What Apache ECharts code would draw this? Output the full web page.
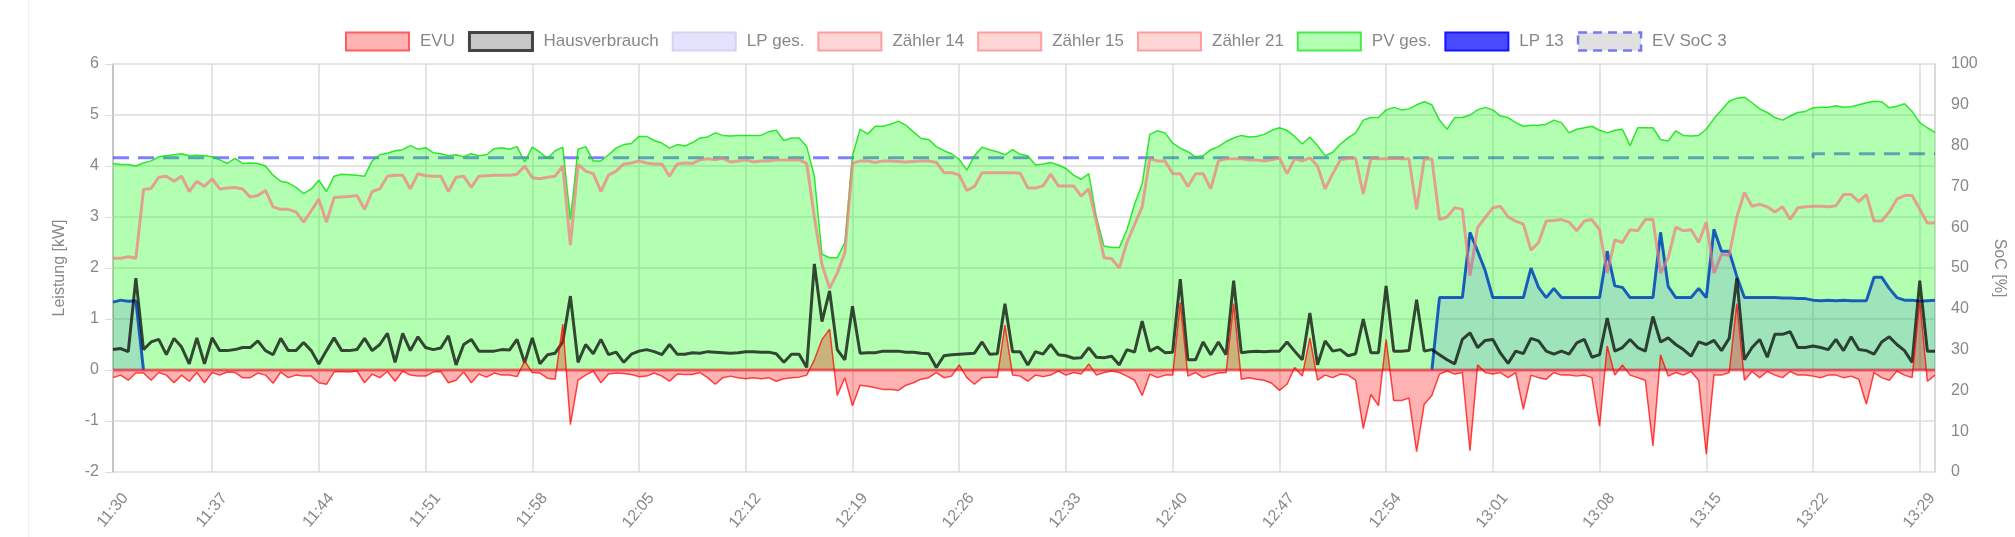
<!DOCTYPE html>
<html>
<head>
<meta charset="utf-8">
<script src="https://cdn.jsdelivr.net/npm/echarts@6/dist/echarts.min.js"></script>
<style>
  html, body { margin: 0; padding: 0; background: #fff; }
  #chart { width: 2015px; height: 537px; }
</style>
</head>
<body>
<div id="chart"></div>
<script>
// one sample every 30 s, first sample 11:30:30
const startSec = (11 * 60 + 30) * 60 + 30;
const times = [];
for (let i = 0; i < 240; i++) {
  const s = startSec + i * 30;
  const hh = String(Math.floor(s / 3600)).padStart(2, '0');
  const mm = String(Math.floor(s / 60) % 60).padStart(2, '0');
  const ss = String(s % 60).padStart(2, '0');
  times.push(hh + ':' + mm + ':' + ss);
}

const evu = [
  -0.15,-0.1,-0.2,-0.06,-0.06,-0.2,-0.05,-0.1,-0.25,-0.1,-0.22,-0.05,-0.25,-0.05,-0.1,-0.04,-0.05,-0.15,-0.15,-0.06,
  -0.1,-0.26,-0.04,-0.15,-0.1,-0.12,-0.12,-0.25,-0.28,-0.04,-0.03,-0.04,-0.02,-0.25,-0.08,-0.15,-0.03,-0.22,-0.02,-0.1,-0.12,
  -0.12,-0.04,-0.03,-0.25,-0.2,-0.04,-0.25,-0.08,-0.14,-0.06,-0.1,-0.1,-0.13,0.18,-0.05,-0.06,-0.16,-0.18,0.9,-1.07,
  -0.2,-0.1,-0.02,-0.25,-0.08,-0.06,-0.07,-0.09,-0.13,-0.12,-0.06,-0.12,-0.22,-0.08,-0.09,-0.09,-0.05,-0.15,-0.28,-0.15,
  -0.12,-0.15,-0.17,-0.15,-0.17,-0.15,-0.22,-0.17,-0.15,-0.14,-0.1,0.2,0.6,0.8,-0.5,-0.15,-0.7,-0.3,-0.32,-0.35,
  -0.38,-0.38,-0.4,-0.3,-0.25,-0.18,-0.15,-0.05,-0.15,-0.12,0.1,-0.15,-0.28,-0.15,-0.14,-0.14,0.88,-0.1,-0.12,-0.22,-0.1,
  -0.13,-0.1,-0.02,-0.1,-0.05,-0.08,0.12,-0.1,-0.05,-0.02,-0.05,-0.12,-0.2,-0.5,-0.08,-0.15,-0.1,-0.1,1.32,-0.12,
  -0.05,-0.15,-0.1,-0.06,-0.05,1.3,-0.18,-0.15,-0.18,-0.2,-0.26,-0.4,-0.28,0.05,-0.12,0.63,-0.2,-0.1,-0.15,-0.08,
  -0.1,-0.2,-1.15,-0.48,-0.7,0.6,-0.6,-0.6,-0.55,-1.6,-0.67,-0.5,-0.08,-0.02,-0.08,-0.05,-1.58,0.1,-0.05,-0.08,
  -0.05,-0.15,-0.05,-0.77,-0.1,-0.15,-0.18,-0.05,-0.1,-0.1,-0.12,-0.1,-0.15,-1.1,0.47,-0.1,0.1,-0.1,-0.15,-0.2,-1.49,
  0.3,-0.12,-0.05,-0.1,-0.03,-0.2,-1.65,-0.1,-0.1,-0.05,1.3,-0.2,-0.03,-0.15,-0.03,-0.1,-0.15,-0.03,-0.1,-0.1,
  -0.12,-0.15,-0.1,-0.1,-0.15,-0.12,-0.18,-0.67,-0.05,-0.15,-0.2,-0.02,-0.1,-0.15,1.35,-0.22,-0.1
];

const haus = [
  0.4,0.42,0.36,1.8,0.4,0.55,0.6,0.3,0.62,0.45,0.12,0.63,0.12,0.63,0.38,0.38,0.4,0.44,0.44,0.57,
  0.38,0.3,0.62,0.38,0.38,0.54,0.38,0.12,0.38,0.63,0.38,0.38,0.4,0.62,0.38,0.5,0.72,0.15,0.72,0.38,0.65,
  0.44,0.4,0.43,0.67,0.1,0.5,0.6,0.37,0.37,0.37,0.4,0.39,0.6,0.14,0.63,0.12,0.3,0.33,0.55,1.45,
  0.15,0.5,0.32,0.6,0.3,0.35,0.15,0.31,0.37,0.4,0.36,0.3,0.5,0.31,0.31,0.34,0.33,0.36,0.35,0.34,
  0.33,0.34,0.36,0.36,0.35,0.35,0.32,0.15,0.31,0.31,0.05,2.08,0.95,1.55,0.4,0.2,1.25,0.33,0.34,0.34,
  0.37,0.37,0.37,0.35,0.35,0.33,0.32,0.05,0.28,0.3,0.31,0.32,0.33,0.55,0.31,0.32,1.3,0.36,0.36,0.1,0.36,
  0.31,0.5,0.3,0.28,0.23,0.24,0.44,0.25,0.24,0.27,0.1,0.4,0.35,0.96,0.37,0.45,0.34,0.35,1.78,0.2,
  0.2,0.55,0.3,0.55,0.3,1.75,0.34,0.36,0.37,0.36,0.37,0.37,0.55,0.37,0.2,1.12,0.1,0.57,0.37,0.4,
  0.28,0.32,1.0,0.34,0.34,1.65,0.37,0.37,0.38,1.38,0.37,0.4,0.3,0.2,0.12,0.6,0.73,0.44,0.58,0.6,
  0.33,0.13,0.37,0.32,0.62,0.57,0.37,0.31,0.37,0.31,0.53,0.6,0.25,0.3,1.02,0.37,0.44,0.6,0.44,0.37,1.05,
  0.55,0.63,0.5,0.4,0.27,0.55,0.5,0.58,0.38,0.62,1.8,0.2,0.44,0.6,0.25,0.7,0.7,0.75,0.44,0.44,
  0.47,0.44,0.4,0.6,0.38,0.65,0.4,0.38,0.31,0.55,0.65,0.5,0.38,0.15,1.75,0.37,0.37
];

const pv = [
  4.05,4.03,4.03,4.0,4.06,4.1,4.18,4.2,4.22,4.24,4.2,4.21,4.2,4.18,4.12,4.05,4.15,4.05,4.06,4.05,
  4.0,3.82,3.7,3.67,3.58,3.46,3.55,3.72,3.5,3.8,3.84,3.83,3.82,3.8,4.1,4.22,4.25,4.3,4.32,4.4,4.33,
  4.36,4.26,4.24,4.2,4.22,4.18,4.24,4.2,4.22,4.34,4.36,4.33,4.38,4.08,4.37,4.27,4.15,4.3,4.37,2.95,
  4.33,4.38,4.1,4.1,4.22,4.35,4.42,4.44,4.58,4.58,4.5,4.45,4.35,4.42,4.39,4.46,4.55,4.57,4.65,4.6,
  4.59,4.6,4.6,4.6,4.6,4.67,4.7,4.5,4.55,4.55,4.38,3.8,2.27,2.2,2.2,2.5,4.2,4.72,4.63,4.78,
  4.78,4.82,4.88,4.8,4.67,4.54,4.52,4.38,4.3,4.24,4.13,3.92,4.2,4.37,4.32,4.28,4.22,4.32,4.23,4.2,4.02,
  4.04,4.07,4.02,3.95,3.82,3.74,3.85,2.99,2.43,2.4,2.4,2.75,3.25,3.65,4.62,4.69,4.65,4.45,4.35,4.28,
  4.18,4.2,4.32,4.38,4.48,4.55,4.6,4.57,4.58,4.62,4.7,4.75,4.7,4.58,4.43,4.57,4.4,4.2,4.27,4.43,
  4.55,4.65,4.9,4.95,4.95,5.1,5.15,5.1,5.12,5.2,5.26,5.2,4.9,4.72,4.95,4.95,5.0,5.1,5.15,5.1,
  4.98,4.95,4.85,4.78,4.8,4.8,4.82,4.9,4.85,4.65,4.72,4.75,4.78,4.7,4.65,4.7,4.72,4.4,4.75,4.75,4.75,
  4.52,4.49,4.69,4.6,4.59,4.6,4.72,4.93,5.1,5.27,5.33,5.35,5.24,5.12,5.05,4.95,4.9,4.98,5.05,5.07,
  5.14,5.15,5.15,5.18,5.15,5.16,5.2,5.24,5.27,5.26,5.14,5.17,5.22,5.07,4.85,4.75,4.66
];

const z14 = [
  2.19,2.19,2.22,2.19,3.54,3.56,3.78,3.8,3.7,3.8,3.5,3.7,3.6,3.75,3.55,3.57,3.58,3.55,3.39,3.42,
  3.52,3.2,3.15,3.15,3.1,2.9,3.12,3.35,2.9,3.38,3.39,3.4,3.42,3.15,3.5,3.55,3.8,3.82,3.82,3.55,3.85,
  3.81,3.8,3.8,3.5,3.78,3.8,3.58,3.8,3.81,3.82,3.82,3.82,3.84,4.0,3.77,3.75,3.78,3.8,4.0,2.45,
  4.03,3.9,3.85,3.5,3.82,3.9,4.04,4.06,4.1,4.06,4.04,4.04,3.8,4.04,4.06,4.05,4.12,4.14,4.12,4.15,
  4.08,4.1,4.12,4.08,4.1,4.1,4.12,4.12,4.12,4.12,4.05,3.0,2.07,1.6,1.9,2.3,4.05,4.1,4.1,4.07,
  4.1,4.1,4.09,4.08,4.09,4.1,4.1,4.07,3.87,3.87,3.82,3.52,3.6,3.87,3.87,3.87,3.87,3.87,3.86,3.57,3.57,
  3.61,3.84,3.61,3.61,3.61,3.41,3.55,2.9,2.2,2.18,2.0,2.5,2.85,3.2,4.14,4.1,4.1,3.85,3.85,3.6,
  3.85,3.85,3.55,4.1,4.14,4.14,4.14,4.12,4.12,4.1,4.12,4.16,3.85,4.14,4.1,4.16,4.0,3.55,3.85,4.12,
  4.15,4.15,3.45,4.15,4.14,4.14,4.15,4.14,4.14,3.15,4.13,4.14,2.95,3.0,3.18,3.15,1.85,2.79,2.99,3.18,
  3.21,3.0,2.92,2.86,2.35,2.5,2.92,2.93,2.95,2.9,2.73,2.92,2.95,2.75,1.9,2.55,2.5,2.75,2.73,2.95,2.95,
  1.9,2.2,2.8,2.73,2.75,2.5,2.9,1.9,2.27,2.25,3.0,3.48,3.21,3.25,3.2,3.1,3.2,2.95,3.18,3.2,
  3.21,3.21,3.2,3.22,3.44,3.44,3.3,3.44,2.92,2.92,3.1,3.35,3.42,3.42,3.15,2.88,2.88
];

// LP 13: no samples while the car was not charging
const lp13 = [
  1.33,1.37,1.35,1.36,0,
  null,null,null,null,null,null,null,null,null,null,null,null,null,null,null,null,null,null,null,null,
  null,null,null,null,null,null,null,null,null,null,null,null,null,null,null,null,null,null,null,null,
  null,null,null,null,null,null,null,null,null,null,null,null,null,null,null,null,null,null,null,null,
  null,null,null,null,null,null,null,null,null,null,null,null,null,null,null,null,null,null,null,null,
  null,null,null,null,null,null,null,null,null,null,null,null,null,null,null,null,null,null,null,null,
  null,null,null,null,null,null,null,null,null,null,null,null,null,null,null,null,null,null,null,null,
  null,null,null,null,null,null,null,null,null,null,null,null,null,null,null,null,null,null,null,null,
  null,null,null,null,null,null,null,null,null,null,null,null,null,null,null,null,null,null,null,null,
  null,null,null,null,null,null,null,null,
  0,
  1.42,1.42,1.42,1.42,2.7,2.33,1.95,1.42,1.42,1.42,1.42,1.42,2.0,1.62,1.42,1.6,1.42,1.42,1.42,1.42,
  1.42,1.42,2.33,1.65,1.62,1.42,1.42,1.42,1.42,
  2.7,1.64,1.42,1.42,1.42,1.6,1.42,2.76,2.33,2.33,1.84,1.42,1.42,1.42,1.42,1.42,1.41,1.41,1.4,1.4,
  1.37,1.36,1.37,1.36,1.37,1.36,1.36,1.36,1.82,1.82,1.6,1.42,1.37,1.37,1.35,1.36,1.37
];

// zero lines for Zähler 15 / 21, [index, kW]
const z15 = [[0, 0], [239, 0]];
const z21 = [[0, 0], [239, 0]];
// EV SoC in %, [index, %]
const soc = [[0, 77], [223, 77], [223, 78], [239, 78]];

function tickAt(index) {
  return index === 0 || (index - 13) % 14 === 0;
}

const font = 'Liberation Sans, Arial, Helvetica, sans-serif';
const grey = '#888';
const chart = echarts.init(document.getElementById('chart'));

chart.setOption({
  animation: false,
  textStyle: { fontFamily: font },
  graphic: [
    { type: 'line', shape: { x1: 28.5, y1: 0, x2: 28.5, y2: 537 }, style: { stroke: '#f0f0f0', lineWidth: 1 }, silent: true }
  ],
  legend: {
    left: 340,
    top: 26,
    itemWidth: 63,
    itemHeight: 18,
    itemGap: 13,
    textStyle: { color: grey, fontSize: 17, fontFamily: font, padding: [0, 0, 0, 6] },
    data: [
      { name: 'EVU', icon: 'rect', itemStyle: { color: '#ffb3b3', borderColor: '#ff5c5c', borderWidth: 2 } },
      { name: 'Hausverbrauch', icon: 'rect', itemStyle: { color: '#c8c8c8', borderColor: '#444', borderWidth: 3 } },
      { name: 'LP ges.', icon: 'rect', itemStyle: { color: '#e3e3fb', borderColor: '#d3d3f5', borderWidth: 2 } },
      { name: 'Zähler 14', icon: 'rect', itemStyle: { color: '#ffd6d6', borderColor: '#ff9e9e', borderWidth: 2 } },
      { name: 'Zähler 15', icon: 'rect', itemStyle: { color: '#ffd6d6', borderColor: '#ff9e9e', borderWidth: 2 } },
      { name: 'Zähler 21', icon: 'rect', itemStyle: { color: '#ffd6d6', borderColor: '#ff9e9e', borderWidth: 2 } },
      { name: 'PV ges.', icon: 'rect', itemStyle: { color: '#b3ffb3', borderColor: '#4dea4d', borderWidth: 2 } },
      { name: 'LP 13', icon: 'rect', itemStyle: { color: '#4a4aff', borderColor: '#1515ff', borderWidth: 2 } },
      { name: 'EV SoC 3', icon: 'rect', itemStyle: { color: '#e0e0e0', borderColor: '#7878f0', borderWidth: 2.5, borderType: [9, 6] } }
    ]
  },
  grid: { left: 113, right: 73, top: 64, bottom: 65 },
  xAxis: {
    type: 'category',
    data: times,
    boundaryGap: false,
    axisLine: { lineStyle: { color: '#bbb', width: 1.5 } },
    axisTick: { interval: tickAt, length: 10, lineStyle: { color: '#ddd' } },
    axisLabel: {
      interval: tickAt,
      rotate: 50,
      color: grey,
      fontSize: 16,
      margin: 13,
      verticalAlign: 'top',
      padding: [8, 0, 0, 0],
      formatter: v => v.slice(0, 5)
    },
    splitLine: { show: true, interval: tickAt, lineStyle: { color: '#ddd', width: 1.5 } }
  },
  yAxis: [
    {
      type: 'value',
      min: -2, max: 6, interval: 1,
      name: 'Leistung [kW]',
      nameLocation: 'middle',
      nameGap: 45,
      nameTextStyle: { color: grey, fontSize: 16 },
      axisLine: { show: true, lineStyle: { color: '#bbb', width: 1.5 } },
      axisTick: { show: true, length: 8, lineStyle: { color: '#ddd' } },
      axisLabel: { color: grey, fontSize: 16, margin: 14 },
      splitLine: { lineStyle: { color: '#ddd', width: 1.5 } }
    },
    {
      type: 'value',
      position: 'right',
      min: 0, max: 100, interval: 10,
      name: 'SoC [%]',
      nameLocation: 'middle',
      nameRotate: -90,
      nameGap: 56,
      nameTextStyle: { color: grey, fontSize: 16 },
      axisLine: { show: true, lineStyle: { color: '#ccc', width: 1.5 } },
      axisTick: { show: false },
      axisLabel: { color: grey, fontSize: 16, margin: 16 },
      splitLine: { show: false }
    }
  ],
  series: [
    {
      name: 'EVU', type: 'line', data: evu, symbol: 'none', z: 9,
      itemStyle: { color: '#ff5c5c' },
      lineStyle: { color: 'rgba(255,0,0,0.72)', width: 1.5 },
      areaStyle: { color: 'rgba(255,0,0,0.3)', opacity: 1 }
    },
    {
      name: 'Hausverbrauch', type: 'line', data: haus, symbol: 'none', z: 8,
      itemStyle: { color: '#444' },
      lineStyle: { color: 'rgba(0,0,0,0.72)', width: 3 }
    },
    {
      name: 'LP ges.', type: 'line', data: lp13, symbol: 'none', z: 7,
      itemStyle: { color: '#d3d3f5' },
      lineStyle: { color: 'rgba(0,0,255,0.1)', width: 1 },
      areaStyle: { color: 'rgba(0,0,255,0.11)', opacity: 1 }
    },
    {
      name: 'Zähler 14', type: 'line', data: z14, symbol: 'none', z: 6,
      itemStyle: { color: '#ff9e9e' },
      lineStyle: { color: 'rgba(240,130,130,0.75)', width: 3 }
    },
    {
      name: 'Zähler 15', type: 'line', data: z15, symbol: 'none', z: 5,
      itemStyle: { color: '#ff9e9e' },
      lineStyle: { color: 'rgba(255,40,60,0.35)', width: 3 }
    },
    {
      name: 'Zähler 21', type: 'line', data: z21, symbol: 'none', z: 5,
      itemStyle: { color: '#ff9e9e' },
      lineStyle: { color: 'rgba(255,40,60,0.35)', width: 3 }
    },
    {
      name: 'PV ges.', type: 'line', data: pv, symbol: 'none', z: 3,
      itemStyle: { color: '#4dea4d' },
      lineStyle: { color: 'rgba(0,225,0,0.8)', width: 1.5 },
      areaStyle: { color: 'rgba(0,255,0,0.3)', opacity: 1 }
    },
    {
      name: 'LP 13', type: 'line', data: lp13, symbol: 'none', z: 2,
      itemStyle: { color: '#1515ff' },
      lineStyle: { color: 'rgba(0,0,255,0.85)', width: 3 }
    },
    {
      name: 'EV SoC 3', type: 'line', data: soc, yAxisIndex: 1, symbol: 'none', z: 1,
      itemStyle: { color: '#7878f0' },
      lineStyle: { color: 'rgba(0,0,255,0.5)', width: 3, type: [16, 9] }
    }
  ]
});
</script>
</body>
</html>
